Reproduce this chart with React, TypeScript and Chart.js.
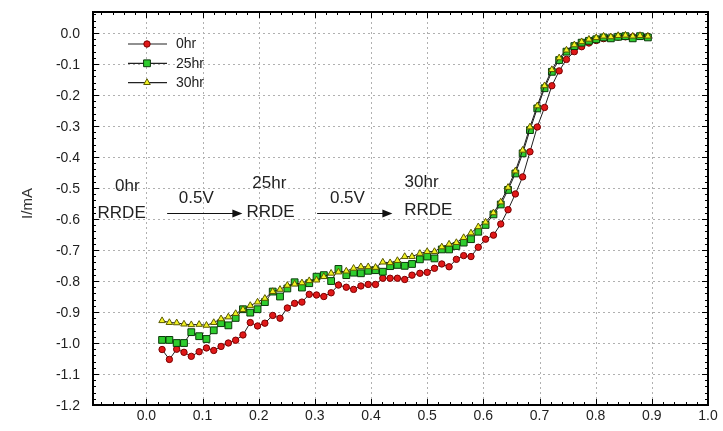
import React, { useEffect, useRef } from 'react';
import { Chart, registerables } from 'chart.js';

Chart.register(...registerables);

// Electrode potential (V) shared by all three sweeps
const potentials = [
  0.028, 0.041, 0.054, 0.067, 0.080, 0.094, 0.107, 0.120, 0.133, 0.146,
  0.159, 0.172, 0.185, 0.198, 0.211, 0.225, 0.238, 0.251, 0.264, 0.277,
  0.290, 0.303, 0.316, 0.329, 0.342, 0.356, 0.369, 0.382, 0.395, 0.408,
  0.421, 0.434, 0.447, 0.460, 0.473, 0.487, 0.500, 0.513, 0.526, 0.539,
  0.552, 0.565, 0.578, 0.591, 0.604, 0.618, 0.631, 0.644, 0.657, 0.670,
  0.683, 0.696, 0.709, 0.722, 0.735, 0.748, 0.762, 0.775, 0.788, 0.801,
  0.814, 0.827, 0.840, 0.853, 0.866, 0.879, 0.893,
];

const current0hr = [
  -1.021, -1.053, -1.020, -1.030, -1.043, -1.028, -1.016, -1.024, -1.011, -1.000,
  -0.991, -0.974, -0.934, -0.945, -0.936, -0.911, -0.920, -0.887, -0.872, -0.868,
  -0.843, -0.845, -0.850, -0.838, -0.813, -0.820, -0.827, -0.816, -0.811, -0.811,
  -0.791, -0.791, -0.791, -0.795, -0.781, -0.775, -0.772, -0.759, -0.745, -0.754,
  -0.730, -0.718, -0.721, -0.691, -0.665, -0.652, -0.616, -0.570, -0.519, -0.464,
  -0.383, -0.303, -0.240, -0.170, -0.122, -0.085, -0.060, -0.044, -0.032, -0.024,
  -0.018, -0.015, -0.013, -0.012, -0.012, -0.011, -0.011,
];

const current25hr = [
  -0.990, -0.990, -1.000, -1.000, -0.965, -0.978, -0.987, -0.959, -0.936, -0.943,
  -0.919, -0.891, -0.902, -0.891, -0.868, -0.834, -0.850, -0.824, -0.804, -0.821,
  -0.807, -0.786, -0.781, -0.800, -0.761, -0.781, -0.773, -0.775, -0.767, -0.765,
  -0.770, -0.752, -0.748, -0.751, -0.745, -0.730, -0.721, -0.727, -0.698, -0.698,
  -0.687, -0.676, -0.665, -0.641, -0.619, -0.585, -0.553, -0.506, -0.453, -0.388,
  -0.313, -0.243, -0.178, -0.125, -0.087, -0.060, -0.042, -0.031, -0.025, -0.020,
  -0.014, -0.017, -0.012, -0.010, -0.017, -0.010, -0.014,
];

const current30hr = [
  -0.928, -0.934, -0.935, -0.939, -0.941, -0.940, -0.943, -0.934, -0.922, -0.916,
  -0.905, -0.892, -0.879, -0.868, -0.856, -0.834, -0.827, -0.814, -0.810, -0.806,
  -0.799, -0.797, -0.786, -0.775, -0.771, -0.768, -0.759, -0.754, -0.754, -0.756,
  -0.739, -0.741, -0.734, -0.721, -0.721, -0.711, -0.705, -0.705, -0.690, -0.681,
  -0.676, -0.660, -0.645, -0.625, -0.610, -0.580, -0.545, -0.498, -0.445, -0.378,
  -0.303, -0.235, -0.170, -0.118, -0.080, -0.055, -0.038, -0.028, -0.020, -0.015,
  -0.010, -0.012, -0.008, -0.007, -0.010, -0.008, -0.010,
];

const seriesLabels = ['0hr', '25hr', '30hr'];
const xTickValues = [0.0, 0.1, 0.2, 0.3, 0.4, 0.5, 0.6, 0.7, 0.8, 0.9, 1.0];
const yTickValues = [0.0, -0.1, -0.2, -0.3, -0.4, -0.5, -0.6, -0.7, -0.8, -0.9, -1.0, -1.1, -1.2];
const xRange = [-0.095, 1.0];
const yRange = [-1.2, 0.068];
const yAxisTitle = 'I/mA';

// annotation texts (anchored in data coordinates)
const noteTexts = ['0hr', 'RRDE', '0.5V', '25hr', 'RRDE', '0.5V', '30hr', 'RRDE'];
const noteX = [-0.034, -0.044, 0.089, 0.219, 0.221, 0.358, 0.490, 0.502];
const noteY = [-0.496, -0.581, -0.532, -0.484, -0.577, -0.532, -0.481, -0.571];
// arrows: start x, end x, y
const arrowStartX = [0.037, 0.304];
const arrowEndX = [0.171, 0.438];
const arrowY = [-0.580, -0.580];

const FONT = '"Liberation Sans", Arial, sans-serif';

const seriesStyles = [
  { pointStyle: 'circle', radius: 3.2, fill: '#e01818', stroke: '#7a0000' },
  { pointStyle: 'rect', radius: 4.8, fill: '#2ecc2e', stroke: '#0a3a0a' },
  { pointStyle: 'triangle', radius: 3.8, fill: '#f2f222', stroke: '#5a5a00' },
];

const decorPlugin = {
  id: 'decor',
  beforeDatasetsDraw(chart: any) {
    const { ctx, chartArea: a, scales } = chart;
    const x = scales.x;
    const y = scales.y;
    ctx.save();
    ctx.strokeStyle = '#b0b0b0';
    ctx.lineWidth = 1;
    ctx.setLineDash([2, 3]);
    for (const v of xTickValues) {
      const px = Math.round(x.getPixelForValue(v)) + 0.5;
      if (px <= a.left + 1 || px >= a.right - 1) continue;
      ctx.beginPath();
      ctx.moveTo(px, a.top);
      ctx.lineTo(px, a.bottom);
      ctx.stroke();
    }
    for (const v of yTickValues) {
      const py = Math.round(y.getPixelForValue(v)) + 0.5;
      if (py <= a.top + 1 || py >= a.bottom - 1) continue;
      ctx.beginPath();
      ctx.moveTo(a.left, py);
      ctx.lineTo(a.right, py);
      ctx.stroke();
    }
    ctx.restore();
  },
  afterDatasetsDraw(chart: any) {
    const { ctx, chartArea: a, scales } = chart;
    const x = scales.x;
    const y = scales.y;
    ctx.save();
    // frame
    ctx.strokeStyle = '#000';
    ctx.lineWidth = 2;
    ctx.strokeRect(a.left, a.top, a.right - a.left, a.bottom - a.top);
    // ticks (inward)
    ctx.lineWidth = 1;
    for (let k = -4; k <= 50; k++) {
      const v = k * 0.02;
      const px = Math.round(x.getPixelForValue(v)) + 0.5;
      if (px <= a.left + 1 || px >= a.right) continue;
      const len = k % 5 === 0 ? 6 : 3;
      ctx.beginPath();
      ctx.moveTo(px, a.bottom);
      ctx.lineTo(px, a.bottom - len);
      ctx.moveTo(px, a.top);
      ctx.lineTo(px, a.top + len);
      ctx.stroke();
    }
    for (let k = -60; k <= 3; k++) {
      const v = k * 0.02;
      const py = Math.round(y.getPixelForValue(v)) + 0.5;
      if (py <= a.top + 1 || py >= a.bottom - 1) continue;
      const len = k % 5 === 0 ? 6 : 3;
      ctx.beginPath();
      ctx.moveTo(a.left, py);
      ctx.lineTo(a.left + len, py);
      ctx.moveTo(a.right, py);
      ctx.lineTo(a.right - len, py);
      ctx.stroke();
    }

    // y tick labels
    ctx.fillStyle = '#222';
    ctx.font = `14px ${FONT}`;
    ctx.textAlign = 'right';
    ctx.textBaseline = 'middle';
    for (const v of yTickValues) {
      ctx.fillText(v.toFixed(1), a.left - 13, y.getPixelForValue(v) + 1);
    }

    // y axis title
    ctx.save();
    ctx.translate(a.left - 65, (a.top + a.bottom) / 2 - 5);
    ctx.rotate(-Math.PI / 2);
    ctx.fillStyle = '#333';
    ctx.font = `15px ${FONT}`;
    ctx.textAlign = 'center';
    ctx.textBaseline = 'middle';
    ctx.fillText(yAxisTitle, 0, 0);
    ctx.restore();

    // annotations
    ctx.fillStyle = '#222';
    ctx.font = `17px ${FONT}`;
    ctx.textAlign = 'center';
    ctx.textBaseline = 'middle';
    noteTexts.forEach((t, i) => {
      ctx.fillText(t, x.getPixelForValue(noteX[i]), y.getPixelForValue(noteY[i]));
    });
    ctx.strokeStyle = '#111';
    ctx.fillStyle = '#111';
    ctx.lineWidth = 1.2;
    arrowStartX.forEach((sx, i) => {
      const x0 = x.getPixelForValue(sx);
      const x1 = x.getPixelForValue(arrowEndX[i]);
      const py = Math.round(y.getPixelForValue(arrowY[i])) + 0.5;
      ctx.beginPath();
      ctx.moveTo(x0, py);
      ctx.lineTo(x1 - 8, py);
      ctx.stroke();
      ctx.beginPath();
      ctx.moveTo(x1, py);
      ctx.lineTo(x1 - 10, py - 4);
      ctx.lineTo(x1 - 10, py + 4);
      ctx.closePath();
      ctx.fill();
    });

    // legend
    ctx.font = `14px ${FONT}`;
    ctx.textAlign = 'left';
    ctx.textBaseline = 'middle';
    seriesLabels.forEach((lab, i) => {
      const ly = a.top + 32 + i * 19.3;
      const lx0 = a.left + 35;
      const lx1 = a.left + 74;
      ctx.strokeStyle = '#222';
      ctx.lineWidth = 1.2;
      ctx.beginPath();
      ctx.moveTo(lx0, ly);
      ctx.lineTo(lx1, ly);
      ctx.stroke();
      const s = seriesStyles[i];
      ctx.fillStyle = s.fill;
      ctx.strokeStyle = s.stroke;
      ctx.lineWidth = 1;
      const cx = a.left + 54;
      ctx.beginPath();
      if (s.pointStyle === 'circle') {
        ctx.arc(cx, ly, s.radius, 0, Math.PI * 2);
      } else if (s.pointStyle === 'rect') {
        const h = s.radius * Math.SQRT1_2;
        ctx.rect(cx - h, ly - h, 2 * h, 2 * h);
      } else {
        const r = s.radius;
        ctx.moveTo(cx, ly - r);
        ctx.lineTo(cx + r * 0.866, ly + r * 0.5);
        ctx.lineTo(cx - r * 0.866, ly + r * 0.5);
        ctx.closePath();
      }
      ctx.fill();
      ctx.stroke();
      ctx.fillStyle = '#222';
      ctx.fillText(lab, a.left + 83, ly + 0.5);
    });
    ctx.restore();
  },
};

export default function App() {
  const canvasRef = useRef<HTMLCanvasElement | null>(null);

  useEffect(() => {
    const canvas = canvasRef.current;
    if (!canvas) return;
    const seriesValues = [current0hr, current25hr, current30hr];
    const datasets = seriesValues.map((vals, si) => {
      const s = seriesStyles[si];
      return {
        label: seriesLabels[si],
        data: potentials.map((p, i) => ({ x: p, y: vals[i] })),
        borderColor: '#1e1e1e',
        borderWidth: 1,
        pointStyle: s.pointStyle as any,
        pointRadius: s.radius,
        pointBackgroundColor: s.fill,
        pointBorderColor: s.stroke,
        pointBorderWidth: 1,
        tension: 0,
        fill: false,
        order: 3 - si,
      };
    });

    const chart = new Chart(canvas, {
      type: 'line',
      data: { datasets },
      options: {
        animation: false,
        responsive: false,
        maintainAspectRatio: false,
        layout: { padding: { left: 0, top: 12, right: 15, bottom: 0 } },
        plugins: {
          legend: { display: false },
          tooltip: { enabled: false },
          title: { display: false },
        },
        scales: {
          x: {
            type: 'linear',
            min: xRange[0],
            max: xRange[1],
            afterBuildTicks: (scale: any) => {
              scale.ticks = xTickValues.map((v) => ({ value: v }));
            },
            afterFit: (scale: any) => {
              scale.height = 26;
            },
            grid: { display: false, drawTicks: false },
            border: { display: false },
            ticks: {
              autoSkip: false,
              maxRotation: 0,
              padding: 3,
              color: '#222',
              font: { family: FONT, size: 14 },
              callback: (v: any) => Number(v).toFixed(1),
            },
          },
          y: {
            type: 'linear',
            min: yRange[0],
            max: yRange[1],
            afterBuildTicks: (scale: any) => {
              scale.ticks = yTickValues.map((v) => ({ value: v }));
            },
            afterFit: (scale: any) => {
              scale.width = 93;
            },
            grid: { display: false, drawTicks: false },
            border: { display: false },
            ticks: { display: false },
          },
        },
      },
      plugins: [decorPlugin],
    });
    return () => chart.destroy();
  }, []);

  return (
    <div style={{ position: 'fixed', left: 0, top: 0, width: 723, height: 431, background: '#fff' }}>
      <canvas ref={canvasRef} width={723} height={431} style={{ display: 'block' }} />
    </div>
  );
}
